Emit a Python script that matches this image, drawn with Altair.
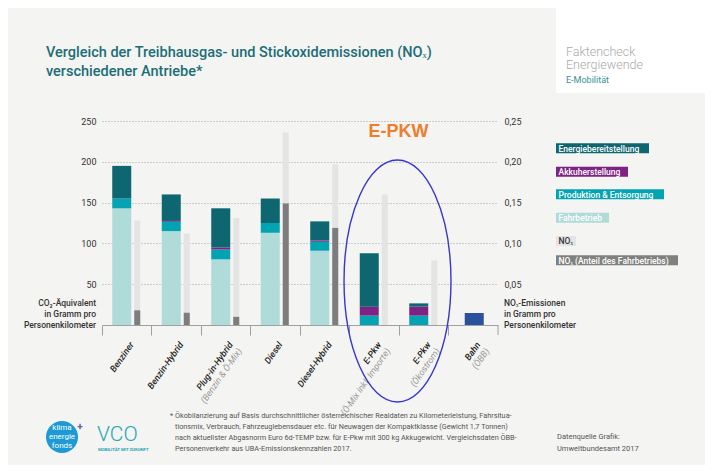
import altair as alt
import pandas as pd

# ---------------- data ----------------
cats = ["Benziner", "Benzin-Hybrid", "Plug-in-Hybrid", "Diesel", "Diesel-Hybrid",
        "E-Pkw (Ö-Mix)", "E-Pkw (Ökostrom)", "Bahn"]
label_line1 = ["Benziner", "Benzin-Hybrid", "Plug-in-Hybrid", "Diesel", "Diesel-Hybrid",
               "E-Pkw", "E-Pkw", "Bahn"]
label_line2 = ["", "", "(Benzin & Ö-Mix)", "", "", "(Ö-Mix inkl. Importe)", "(Ökostrom)", "(ÖBB)"]

car_cats = cats[:7]
fahrbetrieb = [143, 115, 80.5, 113, 91, 0, 0]
produktion = [12, 11.5, 12, 12, 11, 11.5, 11.5]
akku = [0, 1, 2.5, 0, 1.5, 11, 11]
energie = [40, 32.5, 48, 30, 23.5, 65.5, 4]
bahn_cat = ["Bahn"]
bahn_value = [14.7]
nox_total = [0.128, 0.112, 0.131, 0.236, 0.197, 0.160, 0.079]
nox_fahrbetrieb = [0.018, 0.015, 0.010, 0.149, 0.119, 0.0, 0.0]

segments = ["Fahrbetrieb", "Produktion & Entsorgung", "Akkuherstellung", "Energiebereitstellung"]
seg_colors = ["#afdbd9", "#02a4b3", "#7c2383", "#0d6670"]

legend_labels = ["Energiebereitstellung", "Akkuherstellung", "Produktion & Entsorgung",
                 "Fahrbetrieb", "NOₓ", "NOₓ (Anteil des Fahrbetriebs)"]
legend_colors = ["#0d6670", "#7c2383", "#02a4b3", "#afdbd9", "#e4e4e4", "#808080"]
legend_text_colors = ["#ffffff", "#ffffff", "#ffffff", "#ffffff", "#333333", "#ffffff"]

footnote = [
    "* Ökobilanzierung auf Basis durchschnittlicher österreichischer Realdaten zu Kilometerleistung, Fahrsitua-",
    "tionsmix, Verbrauch, Fahrzeuglebensdauer etc. für Neuwagen der Kompaktklasse (Gewicht 1,7 Tonnen)",
    "nach aktuellster Abgasnorm Euro 6d-TEMP bzw. für E-Pkw mit 300 kg Akkugewicht. Vergleichsdaten ÖBB-",
    "Personenverkehr aus UBA-Emissionskennzahlen 2017.",
]

# ---------------- tables ----------------
rows = []
for i, c in enumerate(car_cats):
    for j, (seg, vals) in enumerate(zip(segments, [fahrbetrieb, produktion, akku, energie])):
        rows.append({"cat": c, "seg": seg, "value": vals[i], "ord": j})
df_stack = pd.DataFrame(rows)
df_bahn = pd.DataFrame({"cat": bahn_cat, "value": bahn_value})
df_nox = pd.DataFrame({"cat": car_cats, "nox": nox_total, "noxf": nox_fahrbetrieb})
df_labels = pd.DataFrame({"cat": cats, "l1": label_line1, "l2": label_line2})

W, H = 396, 204
FONT = "Roboto"
one = pd.DataFrame({"a": [0]})

xscale = alt.Scale(domain=cats, paddingInner=0, paddingOuter=0)
xaxis = alt.Axis(labels=False, title=None, bandPosition=0, tickSize=10, tickColor="#a0a0a0",
                 domainColor="#a0a0a0", grid=False)
xEnc = alt.X("cat:N", scale=xscale, axis=xaxis, title=None)

yLscale = alt.Scale(domain=[0, 250], nice=False, zero=True)
axisL = alt.Axis(values=[50, 100, 150, 200, 250], grid=True, gridDash=[1, 2], gridColor="#8f8f8f",
                 gridWidth=0.8, domain=False, ticks=False, labelPadding=6, labelFont=FONT,
                 labelFontSize=9, labelColor="#333333", title=None)
yRscale = alt.Scale(domain=[0, 0.25], nice=False, zero=True)
axisR = alt.Axis(values=[0.05, 0.10, 0.15, 0.20, 0.25], orient="right", grid=False, domain=False,
                 ticks=False, labelPadding=6, labelFont=FONT, labelFontSize=9, labelColor="#333333",
                 labelExpr="replace(format(datum.value, '.2f'), '.', ',')", title=None)

bars = alt.Chart(df_stack).mark_bar(size=19, xOffset=-5).encode(
    x=xEnc,
    y=alt.Y("value:Q", stack="zero", scale=yLscale, axis=axisL, title=None),
    color=alt.Color("seg:N", scale=alt.Scale(domain=segments, range=seg_colors), legend=None),
    order=alt.Order("ord:Q"),
)
bahn = alt.Chart(df_bahn).mark_bar(size=19, xOffset=1, color="#2a519b").encode(
    x=xEnc, y=alt.Y("value:Q", scale=yLscale, axis=axisL, title=None))

left = alt.layer(bars, bahn)

nox1 = alt.Chart(df_nox).mark_bar(size=6, xOffset=10.5, color="#e4e4e4").encode(
    x=xEnc, y=alt.Y("nox:Q", scale=yRscale, axis=axisR, title=None))
nox2 = alt.Chart(df_nox).mark_bar(size=6, xOffset=10.5, color="#7d7d7d").encode(
    x=xEnc, y=alt.Y("noxf:Q", scale=yRscale, axis=axisR, title=None))
right = alt.layer(nox1, nox2)


def txt(text, x, y, size=9, color="#333333", weight="normal", align="left",
        baseline="middle", font=FONT, style="normal", angle=0):
    kw = dict(text=text, fontSize=size, color=color, fontWeight=weight, align=align,
              baseline=baseline, font=font, fontStyle=style)
    if angle:
        kw["angle"] = angle
    return alt.Chart(one).mark_text(**kw).encode(x=alt.value(x), y=alt.value(y))


decor = []

# x labels
lab1 = alt.Chart(df_labels).mark_text(angle=305, align="right", baseline="middle", fontSize=9,
                                      font=FONT, fontStyle="italic", fontWeight=500,
                                      color="#222222", xOffset=5).encode(
    x=xEnc, y=alt.value(H + 18), text="l1:N")
lab2 = alt.Chart(df_labels).mark_text(angle=305, align="right", baseline="middle", fontSize=9,
                                      font=FONT, fontStyle="italic", color="#9a9a9a",
                                      xOffset=5, dy=11).encode(
    x=xEnc, y=alt.value(H + 18), text="l2:N")
decor += [lab1, lab2]

# right end tick of the category axis
decor.append(alt.Chart(one).mark_rule(color="#a0a0a0").encode(
    x=alt.value(W), y=alt.value(H), y2=alt.value(H + 10)))

# axis titles
for k, line in enumerate(["CO₂-Äquivalent", "in Gramm pro", "Personenkilometer"]):
    decor.append(txt(line, -6, 182 + 11 * k, size=8.5, color="#333333", weight=500, align="right"))
for k, line in enumerate(["NOₓ-Emissionen", "in Gramm pro", "Personenkilometer"]):
    decor.append(txt(line, 402, 182 + 11 * k, size=8.5, color="#333333", weight=500, align="left"))

# title
decor.append(txt("Vergleich der Treibhausgas- und Stickoxidemissionen (NOₓ)", -56, -68,
                 size=14.5, color="#1b6e77", weight=500))
decor.append(txt("verschiedener Antriebe*", -56, -49, size=14.5, color="#1b6e77", weight=500))

# top-right white box
decor.append(alt.Chart(one).mark_rect(color="#ffffff").encode(
    x=alt.value(454), x2=alt.value(620), y=alt.value(-113), y2=alt.value(-28)))
decor.append(txt("Faktencheck", 464, -69.5, size=12.5, color="#a9a9a9", weight=300))
decor.append(txt("Energiewende", 464, -56, size=12.5, color="#a9a9a9", weight=300))
decor.append(txt("E-Mobilität", 464, -41.5, size=9, color="#3a8e97"))

# legend
legend_y = [22.3, 45.7, 68.3, 91.7, 115, 134.3]
legend_x2 = [547, 526, 562, 507, 474, 576]
for lab, col, tcol, yy, x2 in zip(legend_labels, legend_colors, legend_text_colors, legend_y, legend_x2):
    decor.append(alt.Chart(one).mark_rect(color=col).encode(
        x=alt.value(454), x2=alt.value(x2), y=alt.value(yy), y2=alt.value(yy + 10)))
    decor.append(txt(lab, 456.5, yy + 5.3, size=8.5, color=tcol, weight=500))

# E-PKW annotation and ellipse
decor.append(txt("E-PKW", 296.5, 10.5, size=18, color="#ef7d2e", weight="bold",
                 align="center", font="Liberation Sans"))
a, k = 0.442, 0.5523
ell = (f"M 0 -1 C {k*a:.4f} -1 {a} -{k} {a} 0 C {a} {k} {k*a:.4f} 1 0 1 "
       f"C -{k*a:.4f} 1 -{a} {k} -{a} 0 C -{a} -{k} -{k*a:.4f} -1 0 -1 Z")
decor.append(alt.Chart(one).mark_point(shape=ell, size=242 * 242, filled=False, color="#3636d2",
                                       strokeWidth=1.4, opacity=1).encode(
    x=alt.value(295.5), y=alt.value(160)))

# footnote
decor.append(txt(footnote[0], 68, 295, size=7.3, color="#555555"))
for i, line in enumerate(footnote[1:]):
    decor.append(txt(line, 73, 306 + 11 * i, size=7.3, color="#555555"))
decor.append(txt("Datenquelle Grafik:", 455, 316, size=7.5, color="#555555"))
decor.append(txt("Umweltbundesamt 2017", 455, 328, size=7.5, color="#555555"))

# logos
decor.append(alt.Chart(one).mark_point(shape="circle", size=1024, filled=True, color="#1d9ad6",
                                       opacity=1).encode(x=alt.value(-40), y=alt.value(316)))
for i, w in enumerate(["klima", "energie", "fonds"]):
    decor.append(txt(w, -40, 307 + 9 * i, size=8, color="#ffffff", align="center"))
decor.append(txt("+", -22, 306, size=10, color="#5b5fa8", weight="bold", align="center"))
decor.append(txt("VCO", -5, 314, size=21, color="#23a5b4", weight=300))
decor.append(txt("MOBILITÄT MIT ZUKUNFT", -4, 329, size=4.3, color="#23a5b4", weight="bold"))

chart = alt.layer(left, right, *decor).resolve_scale(y="independent").properties(
    width=W, height=H,
    autosize=alt.AutoSizeParams(type="none"),
    padding={"left": 94, "top": 113, "right": 207, "bottom": 140},
).configure(background="#f4f4f2").configure_view(stroke=None)

chart.save("out.html", embed_options={"renderer": "svg", "actions": False})
